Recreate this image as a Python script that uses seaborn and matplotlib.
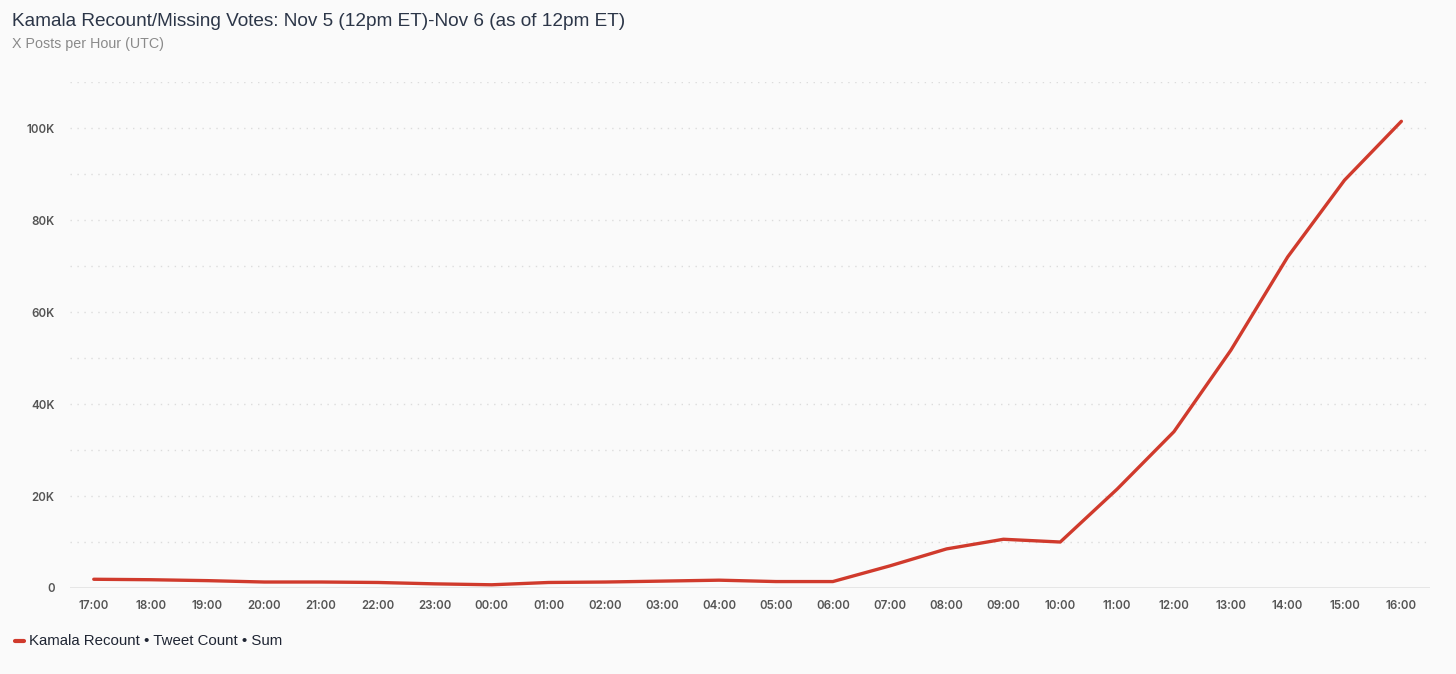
import matplotlib
matplotlib.use("Agg")
import matplotlib.pyplot as plt
import seaborn as sns
import pandas as pd
from matplotlib.ticker import FixedLocator, FuncFormatter

hours = ["17:00", "18:00", "19:00", "20:00", "21:00", "22:00", "23:00", "00:00",
         "01:00", "02:00", "03:00", "04:00", "05:00", "06:00", "07:00", "08:00",
         "09:00", "10:00", "11:00", "12:00", "13:00", "14:00", "15:00", "16:00"]
tweets = [1900, 1800, 1600, 1300, 1300, 1200, 900, 700,
          1200, 1300, 1500, 1700, 1400, 1400, 4800, 8500,
          10600, 10000, 21500, 34000, 51700, 72000, 88700, 101500]

series_name = "Kamala Recount • Tweet Count • Sum"
title = "Kamala Recount/Missing Votes: Nov 5 (12pm ET)-Nov 6 (as of 12pm ET)"
subtitle = "X Posts per Hour (UTC)"

df = pd.DataFrame({"pos": range(len(hours)), "count": tweets})

sns.set_theme(style="white")
plt.rcParams["font.family"] = ["Liberation Sans", "DejaVu Sans"]

bg = "#fafafa"
fig = plt.figure(figsize=(14.56, 6.74), dpi=100, facecolor=bg)
ax = fig.add_axes([0.048, 0.1276, 0.934, 0.7504])
ax.set_facecolor(bg)

sns.lineplot(data=df, x="pos", y="count", ax=ax, color="#d03a2c", linewidth=2.4,
             solid_capstyle="round", solid_joinstyle="round", legend=False)

ax.set_xlim(-0.42, 23.5)
ax.set_ylim(0, 110000)
ax.set_xticks(range(len(hours)))
ax.set_xticklabels(hours)
ax.yaxis.set_major_locator(FixedLocator([0, 20000, 40000, 60000, 80000, 100000]))
ax.yaxis.set_major_formatter(FuncFormatter(lambda v, p: "0" if v == 0 else f"{int(v/1000)}K"))
ax.grid(False)
for v in range(10000, 110001, 10000):
    ax.axhline(v, color="#dcdcdc", linestyle=(0, (1, 4)), linewidth=1.0, zorder=0)
ax.axhline(0, color="#e2e2e2", linewidth=1.2, zorder=0)

for s in ax.spines.values():
    s.set_visible(False)
ax.tick_params(axis="both", which="both", length=0, colors="#555555", labelsize=8.3)
ax.tick_params(axis="y", pad=11)
ax.tick_params(axis="x", pad=9)
for lbl in ax.get_xticklabels() + ax.get_yticklabels():
    lbl.set_family(["Inter", "DejaVu Sans"])
    lbl.set_fontweight("semibold")
    lbl.set_color("#555555")
ax.set_xlabel("")
ax.set_ylabel("")

fig.text(0.0082, 1 - 22 / 674, title, fontsize=13.7, color="#2c3648", ha="left", va="center")
fig.text(0.0082, 1 - 44 / 674, subtitle, fontsize=10.3, color="#8a8a8a", ha="left", va="center")

fig.lines.append(plt.Line2D([0.0103, 0.0165], [1 - 641 / 674] * 2, transform=fig.transFigure,
                            color="#d03a2c", linewidth=3.0))
fig.text(0.0199, 1 - 641 / 674, series_name, fontsize=10.8, color="#1f2533", ha="left", va="center")

fig.savefig("out.png", dpi=100, facecolor=bg)
